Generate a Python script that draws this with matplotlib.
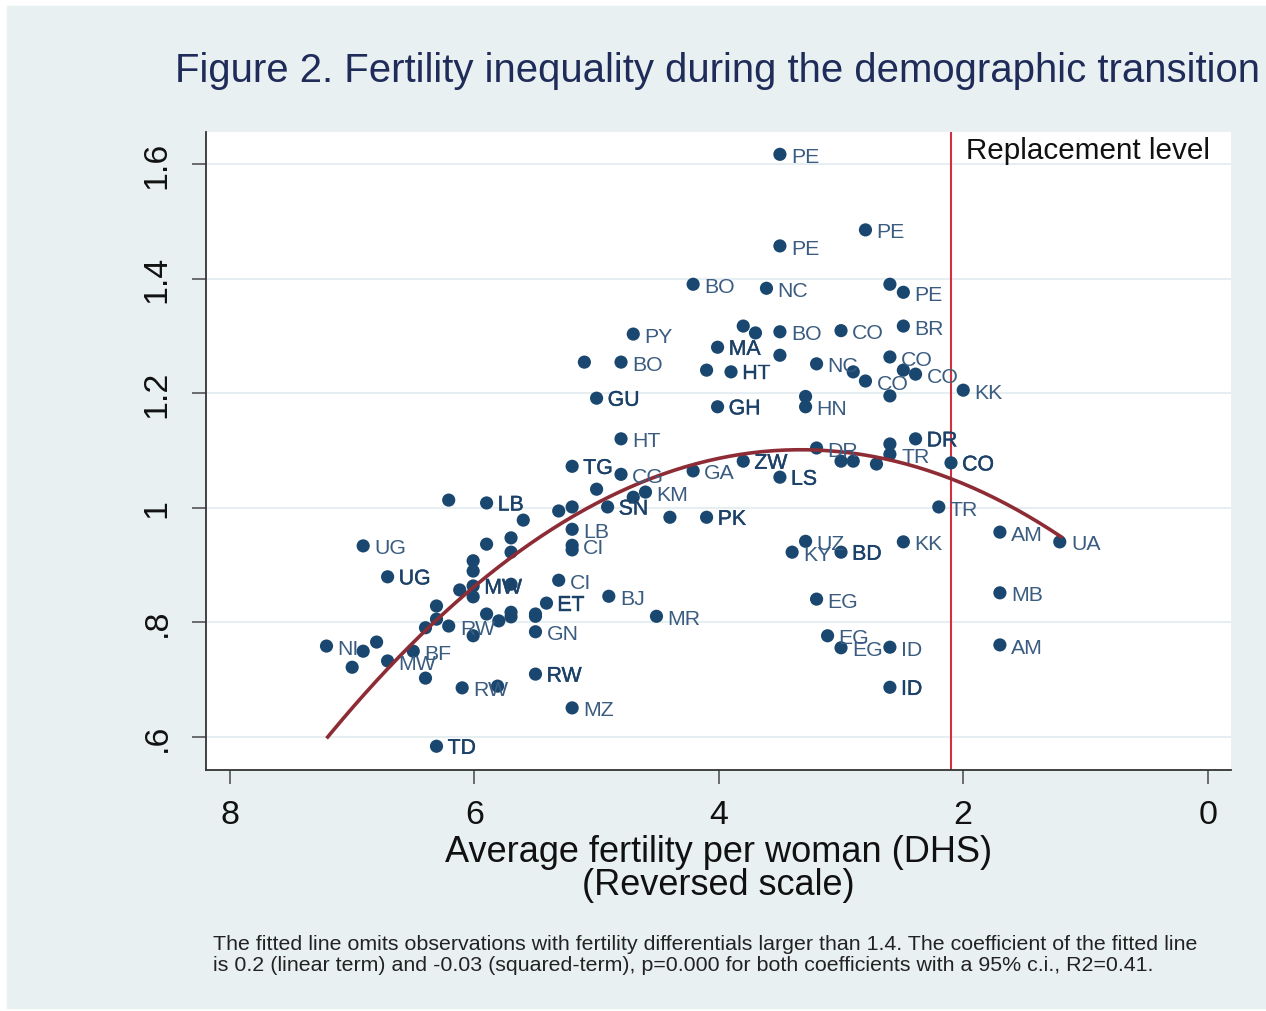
import numpy as np
import matplotlib.pyplot as plt
import matplotlib.patheffects as pe
from matplotlib.patches import Rectangle

plt.rcParams['font.family'] = ['Liberation Sans', 'DejaVu Sans']

# Survey points: average fertility (DHS), fertility inequality, country code
fert = [3.50, 2.80, 3.50, 4.21, 3.61, 2.60, 2.49, 3.80, 3.70, 3.50,
        3.00, 2.49, 4.70, 4.01, 3.50, 5.10, 4.80, 4.10, 3.90, 3.20,
        2.90, 2.80, 2.60, 2.49, 2.39, 2.00, 2.60, 5.00, 4.01, 3.29,
        3.29, 4.80, 3.20, 3.00, 2.90, 2.71, 2.60, 2.60, 2.39, 2.10,
        3.80, 3.50, 4.21, 5.20, 4.80, 5.00, 4.60, 4.70, 4.91, 4.40,
        4.10, 6.21, 5.90, 5.60, 5.31, 5.20, 5.20, 5.20, 5.20, 2.20,
        6.91, 3.29, 3.40, 3.00, 2.49, 1.70, 1.21, 6.71, 1.70, 3.20,
        3.11, 3.00, 2.60, 1.70, 2.60, 5.31, 4.90, 4.51, 5.41, 5.50,
        5.50, 5.20, 6.31, 5.90, 5.70, 5.70, 6.01, 6.01, 6.12, 6.01,
        6.01, 5.70, 6.31, 6.31, 5.90, 5.80, 5.70, 5.70, 5.50, 5.50,
        6.40, 6.21, 6.01, 7.21, 6.91, 6.80, 6.50, 6.71, 7.00, 6.40,
        6.10, 5.81]
ineq = [1.617, 1.485, 1.457, 1.390, 1.383, 1.390, 1.376, 1.317, 1.305, 1.307,
        1.309, 1.317, 1.303, 1.280, 1.266, 1.254, 1.254, 1.240, 1.237, 1.251,
        1.237, 1.221, 1.263, 1.240, 1.233, 1.205, 1.195, 1.191, 1.176, 1.194,
        1.176, 1.120, 1.104, 1.081, 1.081, 1.076, 1.111, 1.093, 1.120, 1.078,
        1.081, 1.053, 1.064, 1.072, 1.058, 1.032, 1.027, 1.018, 1.001, 0.983,
        0.983, 1.013, 1.008, 0.978, 0.994, 1.001, 0.962, 0.934, 0.926, 1.001,
        0.933, 0.941, 0.922, 0.922, 0.940, 0.957, 0.940, 0.879, 0.851, 0.840,
        0.776, 0.755, 0.756, 0.760, 0.686, 0.873, 0.845, 0.810, 0.833, 0.783,
        0.709, 0.650, 0.583, 0.936, 0.947, 0.922, 0.907, 0.889, 0.856, 0.863,
        0.844, 0.866, 0.828, 0.805, 0.814, 0.802, 0.817, 0.809, 0.814, 0.810,
        0.790, 0.793, 0.776, 0.758, 0.749, 0.765, 0.749, 0.732, 0.721, 0.702,
        0.685, 0.688]
code = ['PE', 'PE', 'PE', 'BO', 'NC', '', 'PE', '', '', 'BO',
        'CO', 'BR', 'PY', 'MA', '', '', 'BO', '', 'HT', 'NC',
        '', 'CO', 'CO', '', 'CO', 'KK', '', 'GU', 'GH', '',
        'HN', 'HT', 'DR', '', '', '', '', 'TR', 'DR', 'CO',
        'ZW', 'LS', 'GA', 'TG', 'CG', '', 'KM', '', 'SN', '',
        'PK', '', 'LB', '', '', '', 'LB', 'CI', '', 'TR',
        'UG', 'UZ', 'KY', 'BD', 'KK', 'AM', 'UA', 'UG', 'MB', 'EG',
        'EG', 'EG', 'ID', 'AM', 'ID', 'CI', 'BJ', 'MR', 'ET', 'GN',
        'RW', 'MZ', 'TD', '', '', '', '', '', '', 'MW',
        '', '', '', '', '', '', '', '', '', '',
        '', 'RW', '', 'NI', '', '', 'BF', 'MW', '', '',
        'RW', '']
# labels printed darker (overlapping duplicate labels in the original)
heavy_idx = [13, 18, 27, 28, 38, 39, 40, 41, 43, 48, 50, 52, 63, 67, 74, 78, 80, 82, 89]

# Quadratic fit (obs with differential <= 1.4) and its range
fit_coef = [-0.0335, 0.2231, 0.7295]
fit_range = [1.2, 7.2]
replacement = 2.1

title = 'Figure 2. Fertility inequality during the demographic transition'
note = ('The fitted line omits observations with fertility differentials larger than 1.4. '
        'The coefficient of the fitted line\n'
        'is 0.2 (linear term) and -0.03 (squared-term), p=0.000 for both coefficients '
        'with a 95% c.i., R2=0.41.')

W, H = 1266, 1012
fig = plt.figure(figsize=(W / 100, H / 100), dpi=100)
fig.patches.append(Rectangle((7 / W, 3 / H), 1 - 7 / W, 1 - 10 / H,
                             transform=fig.transFigure, color='#e9f0f2', zorder=-5))

ax = fig.add_axes([206 / W, 1 - 771 / H, (1231 - 206) / W, (771 - 133) / H])
ax.set_zorder(2)
ax.set_facecolor('white')
ax.set_xlim(8.196, -0.191)
ax.set_ylim(0.5415, 1.656)

ax.set_yticks([0.6, 0.8, 1.0, 1.2, 1.4, 1.6])
ax.set_yticklabels(['.6', '.8', '1', '1.2', '1.4', '1.6'], rotation=90, va='center')
ax.set_xticks([8, 6, 4, 2, 0])
ax.set_xticklabels(['8', '6', '4', '2', '0'])
ax.tick_params(axis='both', direction='out', length=10, width=1.2, color='#555555',
               labelsize=24.5, labelcolor='#111111')
ax.tick_params(axis='y', pad=14)
ax.tick_params(axis='x', pad=11)
ax.grid(axis='y', color='#e6eef1', lw=1.5, zorder=0)
ax.set_axisbelow(True)
for s in ['top', 'right']:
    ax.spines[s].set_visible(False)
for s in ['left', 'bottom']:
    ax.spines[s].set_color('#333333')
    ax.spines[s].set_linewidth(1.3)

ax.axvline(replacement, color='#d2303f', lw=1.5, zorder=2)
ax.annotate('Replacement level', xy=(replacement, 1), xycoords=('data', 'axes fraction'),
            xytext=(11, -13), textcoords='offset points', ha='left', va='center',
            fontsize=21.3, color='#111111')

xf = np.linspace(fit_range[0], fit_range[1], 200)
ax.plot(xf, np.polyval(fit_coef, xf), color='#8e2c36', lw=2.6, zorder=4)

ax.scatter(fert, ineq, s=90, color='#1a476f', edgecolors='none', zorder=3)
for i, (x, y, c) in enumerate(zip(fert, ineq, code)):
    if not c:
        continue
    if i in heavy_idx:
        ax.annotate(c, (x, y), xytext=(8, -1.5), textcoords='offset points',
                    va='center', ha='left', fontsize=15.3, color='#1c4168', zorder=5,
                    path_effects=[pe.withStroke(linewidth=0.3, foreground='#1c4168')])
    else:
        ax.annotate(c, (x, y), xytext=(8, -1.5), textcoords='offset points',
                    va='center', ha='left', fontsize=15.3, color='#3a5c80', zorder=5)

ax.set_xlabel('Average fertility per woman (DHS)\n(Reversed scale)', fontsize=26,
              color='#111111', linespacing=0.93, labelpad=2.5)

fig.text(175 / W, 1 - 82 / H, title, fontsize=28.9, color='#1f2b58',
         ha='left', va='baseline')
fig.text(213 / W, 1 - 935 / H, note, fontsize=15.4, color='#222222',
         ha='left', va='top', linespacing=1.15)

fig.savefig('out.png', dpi=100, facecolor='white')
